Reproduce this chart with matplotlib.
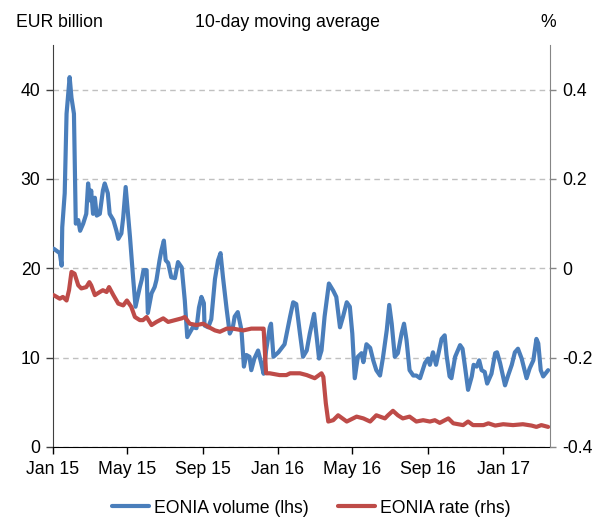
import matplotlib
matplotlib.use("Agg")
import matplotlib.pyplot as plt
import matplotlib.dates as mdates
import pandas as pd

plt.rcParams["font.family"] = ["Liberation Sans", "DejaVu Sans"]
plt.rcParams["axes.unicode_minus"] = False

FS = 12.7

# EONIA volume, 10-day moving average (EUR billion)
volume_dates = [
    "2015-01-02", "2015-01-12", "2015-01-15", "2015-01-16", "2015-01-20", "2015-01-23",
    "2015-01-28", "2015-01-31", "2015-02-04", "2015-02-07", "2015-02-11", "2015-02-14",
    "2015-02-19", "2015-02-24", "2015-02-27", "2015-03-02", "2015-03-04", "2015-03-07",
    "2015-03-10", "2015-03-13", "2015-03-18", "2015-03-23", "2015-03-26", "2015-03-31",
    "2015-04-03", "2015-04-09", "2015-04-14", "2015-04-17", "2015-04-22", "2015-04-25",
    "2015-04-29", "2015-05-06", "2015-05-11", "2015-05-15", "2015-05-22", "2015-05-25",
    "2015-05-28", "2015-06-02", "2015-06-04", "2015-06-10", "2015-06-15", "2015-06-18",
    "2015-06-23", "2015-06-26", "2015-06-30", "2015-07-03", "2015-07-07", "2015-07-12",
    "2015-07-18", "2015-07-23", "2015-07-29", "2015-08-03", "2015-08-07", "2015-08-11",
    "2015-08-16", "2015-08-22", "2015-08-26", "2015-08-30", "2015-09-03", "2015-09-04",
    "2015-09-10", "2015-09-15", "2015-09-21", "2015-09-26", "2015-09-30", "2015-10-04",
    "2015-10-10", "2015-10-15", "2015-10-20", "2015-10-23", "2015-10-28", "2015-11-03",
    "2015-11-07", "2015-11-11", "2015-11-16", "2015-11-19", "2015-11-24", "2015-11-30",
    "2015-12-05", "2015-12-09", "2015-12-13", "2015-12-19", "2015-12-21", "2015-12-25",
    "2016-01-02", "2016-01-12", "2016-01-21", "2016-01-26", "2016-01-31", "2016-02-06",
    "2016-02-11", "2016-02-17", "2016-02-22", "2016-02-29", "2016-03-04", "2016-03-08",
    "2016-03-12", "2016-03-17", "2016-03-24", "2016-03-31", "2016-04-05", "2016-04-11",
    "2016-04-16", "2016-04-22", "2016-04-27", "2016-05-01", "2016-05-05", "2016-05-10",
    "2016-05-16", "2016-05-19", "2016-05-24", "2016-05-30", "2016-06-04", "2016-06-09",
    "2016-06-15", "2016-06-20", "2016-06-26", "2016-06-30", "2016-07-04", "2016-07-09",
    "2016-07-14", "2016-07-20", "2016-07-24", "2016-07-28", "2016-08-02", "2016-08-08",
    "2016-08-13", "2016-08-19", "2016-08-27", "2016-09-01", "2016-09-04", "2016-09-09",
    "2016-09-14", "2016-09-19", "2016-09-23", "2016-09-28", "2016-10-01", "2016-10-06",
    "2016-10-09", "2016-10-15", "2016-10-23", "2016-10-27", "2016-10-31", "2016-11-05",
    "2016-11-11", "2016-11-14", "2016-11-19", "2016-11-23", "2016-11-27", "2016-12-02",
    "2016-12-06", "2016-12-13", "2016-12-19", "2016-12-22", "2016-12-27", "2017-01-04",
    "2017-01-09", "2017-01-15", "2017-01-20", "2017-01-25", "2017-01-31", "2017-02-08",
    "2017-02-13", "2017-02-19", "2017-02-24", "2017-02-27", "2017-03-03", "2017-03-07",
    "2017-03-15",
]
volume_values = [
    22.2, 21.7, 20.3, 24.6, 28.4, 37.3,
    41.4, 39.1, 37.3, 25.0, 25.4, 24.2,
    25.0, 26.1, 29.5, 27.6, 28.7, 26.1,
    27.9, 25.9, 26.1, 28.7, 29.5, 28.4,
    26.1, 25.4, 24.2, 23.3, 23.9, 25.7,
    29.1, 23.5, 19.0, 15.7, 17.9, 18.7,
    19.8, 19.8, 15.0, 17.2, 17.9, 18.7,
    20.9, 22.0, 23.1, 20.9, 20.6, 19.0,
    18.9, 20.7, 20.1, 16.4, 12.3, 12.8,
    13.4, 13.3, 15.6, 16.8, 16.1, 13.6,
    13.4, 14.3, 18.8, 20.9, 21.7, 19.0,
    15.4, 12.7, 13.4, 14.6, 15.1, 13.1,
    9.0, 10.3, 10.1, 8.6, 9.9, 10.8,
    9.4, 8.2, 10.8, 13.4, 13.8, 10.1,
    10.6, 11.5, 14.6, 16.2, 16.0, 12.7,
    10.1, 10.8, 12.7, 14.9, 12.4, 9.9,
    10.8, 14.6, 18.3, 17.5, 16.8, 13.4,
    14.6, 16.2, 15.7, 12.7, 7.7, 10.1,
    10.5, 9.5, 11.5, 11.1, 9.7, 8.6,
    8.0, 10.1, 13.1, 15.9, 13.8, 10.1,
    10.5, 12.7, 13.8, 12.0, 8.6, 8.0,
    8.0, 7.7, 9.4, 9.9, 9.2, 10.6,
    9.2, 10.8, 12.1, 12.5, 10.3, 7.9,
    7.7, 10.1, 11.4, 11.0, 9.0, 6.4,
    7.9, 9.2, 9.0, 9.7, 8.6, 8.4,
    7.1, 8.2, 10.5, 10.6, 9.4, 6.9,
    8.0, 9.2, 10.6, 11.0, 9.9, 7.7,
    8.8, 9.7, 12.1, 11.6, 8.6, 7.9,
    8.6,
]

# EONIA rate, 10-day moving average (%)
rate_dates = [
    "2015-01-02", "2015-01-12", "2015-01-17", "2015-01-23", "2015-01-27", "2015-01-31",
    "2015-02-05", "2015-02-11", "2015-02-16", "2015-02-24", "2015-03-01", "2015-03-04",
    "2015-03-10", "2015-03-18", "2015-03-23", "2015-03-29", "2015-04-02", "2015-04-09",
    "2015-04-17", "2015-04-25", "2015-05-01", "2015-05-08", "2015-05-14", "2015-05-22",
    "2015-05-27", "2015-06-02", "2015-06-10", "2015-06-18", "2015-06-29", "2015-07-07",
    "2015-07-18", "2015-07-29", "2015-08-03", "2015-08-11", "2015-08-22", "2015-09-02",
    "2015-09-10", "2015-09-21", "2015-09-29", "2015-10-10", "2015-10-20", "2015-11-06",
    "2015-11-19", "2015-12-05", "2015-12-09", "2015-12-13", "2015-12-19", "2016-01-04",
    "2016-01-15", "2016-01-21", "2016-02-06", "2016-02-17", "2016-03-01", "2016-03-12",
    "2016-03-15", "2016-03-19", "2016-03-23", "2016-03-31", "2016-04-08", "2016-04-22",
    "2016-05-08", "2016-05-19", "2016-05-30", "2016-06-09", "2016-06-23", "2016-06-28",
    "2016-07-06", "2016-07-14", "2016-07-22", "2016-08-02", "2016-08-13", "2016-08-24",
    "2016-09-04", "2016-09-12", "2016-09-20", "2016-10-04", "2016-10-12", "2016-10-28",
    "2016-11-05", "2016-11-13", "2016-11-30", "2016-12-08", "2016-12-19", "2017-01-01",
    "2017-01-17", "2017-02-02", "2017-02-16", "2017-02-24", "2017-03-04", "2017-03-15",
]
rate_values = [
    -0.060, -0.068, -0.064, -0.072, -0.049, -0.008,
    -0.012, -0.038, -0.045, -0.042, -0.031, -0.038,
    -0.060, -0.053, -0.049, -0.053, -0.042, -0.060,
    -0.079, -0.083, -0.072, -0.086, -0.109, -0.116,
    -0.116, -0.109, -0.127, -0.120, -0.112, -0.120,
    -0.116, -0.112, -0.109, -0.124, -0.127, -0.124,
    -0.131, -0.139, -0.142, -0.135, -0.135, -0.139,
    -0.135, -0.135, -0.135, -0.235, -0.235, -0.239,
    -0.239, -0.235, -0.235, -0.239, -0.246, -0.235,
    -0.243, -0.302, -0.343, -0.340, -0.329, -0.343,
    -0.332, -0.336, -0.343, -0.329, -0.336, -0.329,
    -0.319, -0.329, -0.336, -0.332, -0.343, -0.340,
    -0.343, -0.340, -0.346, -0.336, -0.347, -0.351,
    -0.343, -0.351, -0.351, -0.347, -0.352, -0.349,
    -0.351, -0.349, -0.352, -0.355, -0.351, -0.355,
]

left_ticks = [0, 10, 20, 30, 40]
right_ticks = [-0.4, -0.2, 0.0, 0.2, 0.4]
right_tick_labels = ["-0.4", "-0.2", "0", "0.2", "0.4"]

vol_color = "#4A7EBB"
rate_color = "#BE4B48"

fig = plt.figure(figsize=(6.01, 5.17), dpi=100)
ax = fig.add_axes([0.0882, 0.1354, 0.8269, 0.7776])
ax2 = ax.twinx()

vd = pd.to_datetime(volume_dates)
rd = pd.to_datetime(rate_dates)

l1, = ax.plot(vd, volume_values, color=vol_color, lw=3.0, solid_joinstyle="round",
              solid_capstyle="round", label="EONIA volume (lhs)", zorder=3)
l2, = ax2.plot(rd, rate_values, color=rate_color, lw=3.0, solid_joinstyle="round",
               solid_capstyle="round", label="EONIA rate (rhs)", zorder=3)

ax.set_xlim(pd.Timestamp("2015-01-01"), pd.Timestamp("2017-03-18"))
ax.set_ylim(0, 45)
ax2.set_ylim(-0.4, 0.5)

ax.set_yticks(left_ticks)
ax.set_yticklabels([str(t) for t in left_ticks])
ax2.set_yticks(right_ticks)
ax2.set_yticklabels(right_tick_labels)

ax.xaxis.set_major_locator(mdates.MonthLocator(bymonth=[1, 5, 9]))
ax.xaxis.set_major_formatter(mdates.DateFormatter("%b %y"))

for a in (ax, ax2):
    a.spines["top"].set_visible(False)
ax.spines["left"].set_color("#404040")
ax.spines["bottom"].set_color("#000000")
ax.spines["right"].set_visible(False)
ax2.spines["left"].set_visible(False)
ax2.spines["bottom"].set_visible(False)
ax2.spines["right"].set_color("#868686")

ax.tick_params(axis="y", direction="out", length=5, width=1, color="#404040",
               labelsize=FS, pad=4)
ax.tick_params(axis="x", direction="out", length=5, width=1, color="#000000",
               labelsize=FS, pad=5)
ax2.tick_params(axis="y", direction="out", length=4, width=1, color="#868686",
                labelsize=FS, pad=5)

ax.grid(axis="y", linestyle=(0, (4, 3)), color="#C0C0C0", linewidth=1)
ax.set_axisbelow(True)

fig.text(0.027, 0.957, "EUR billion", fontsize=FS, ha="left", va="center")
fig.text(0.478, 0.957, "10-day moving average", fontsize=FS, ha="center", va="center")
fig.text(0.912, 0.957, "%", fontsize=FS, ha="center", va="center")

fig.legend(handles=[l1, l2], loc="center", bbox_to_anchor=(0.518, 0.0174), ncol=2,
           frameon=False, fontsize=FS, handlelength=2.1, handletextpad=0.25,
           columnspacing=1.7, borderaxespad=0)

fig.savefig("out.png", dpi=100)
